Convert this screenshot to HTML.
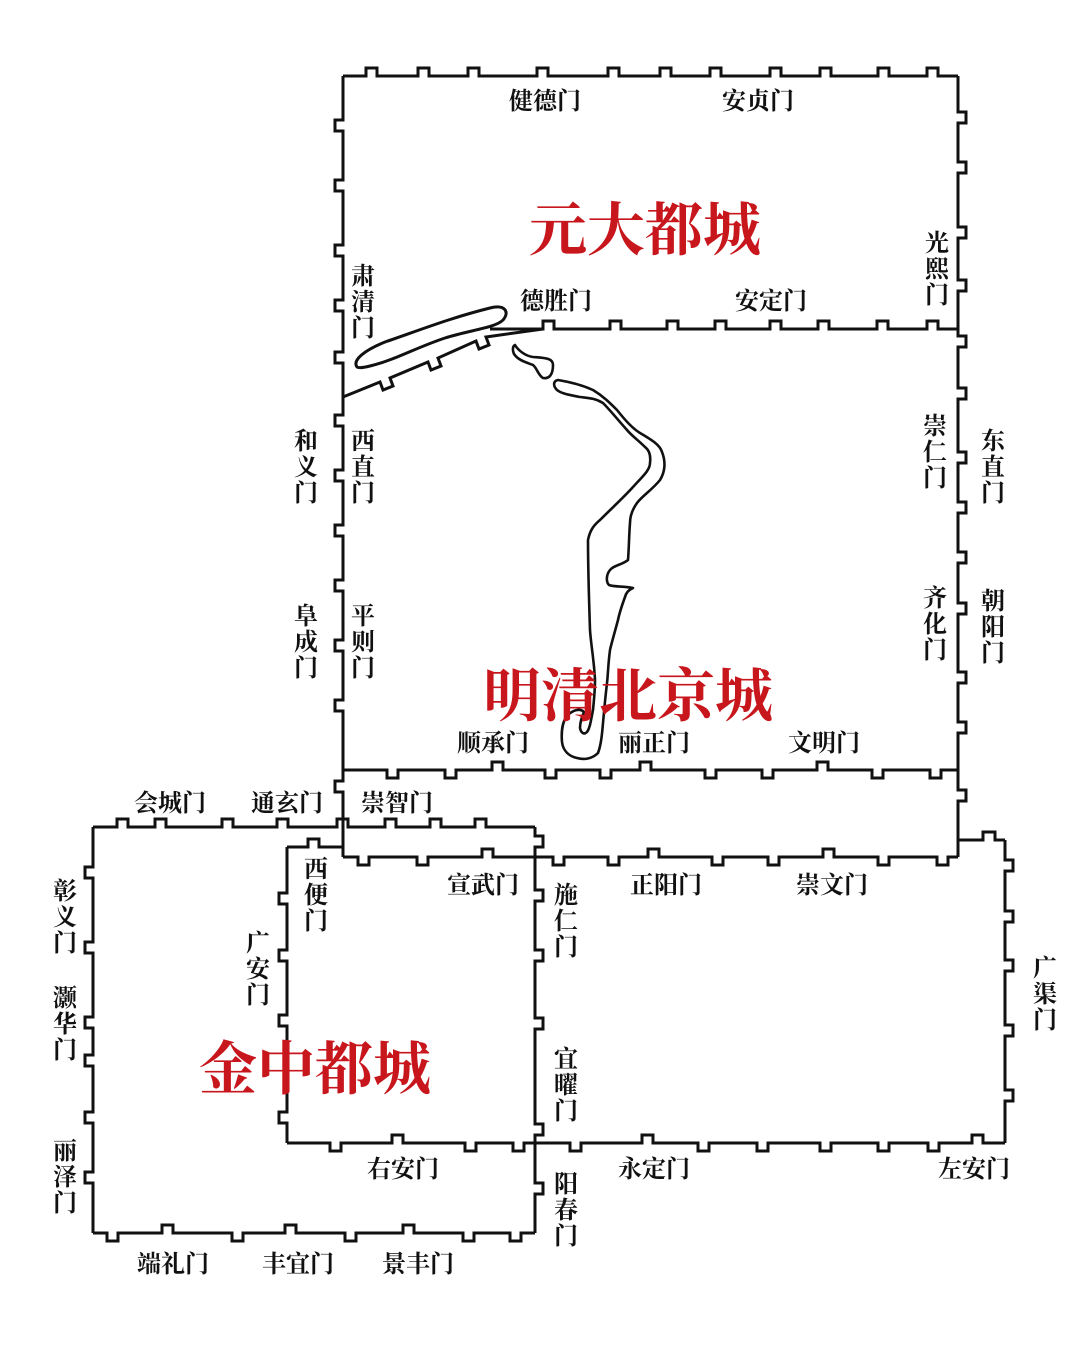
<!DOCTYPE html>
<html><head><meta charset="utf-8"><style>
html,body{margin:0;padding:0;background:#fff;}
svg{display:block}
text{font-family:"Liberation Serif","Noto Serif CJK SC",serif;}
</style></head><body>
<svg id="s" width="1080" height="1351" viewBox="0 0 1080 1351" xmlns="http://www.w3.org/2000/svg">
<rect width="1080" height="1351" fill="#fff"/>
<g id="walls" fill="none" stroke="#111" stroke-width="3" stroke-linejoin="miter"></g>
<!-- lake -->
<path d="M357,367 C352,360 365,350 385,342 C420,330 450,318 490,308 C505,304 510,312 503,320 C495,328 470,330 445,338 C415,348 395,360 370,366 C362,368 358,368 357,367 Z" fill="none" stroke="#111" stroke-width="3"/>
<!-- river -->
<g fill="none" stroke="#111" stroke-width="2.6" stroke-linejoin="round">
<path d="M515,345 C518,350 525,356 533,357 C545,358 553,358 553,365 C553,375 549,379 543,378 C538,375 537,368 533,365 C525,362 518,360 514,354 C512,349 513,346 515,345 Z"/>
<path d="M558,380 C570,382 582,385 593,390 C603,396 610,403 617,410 C625,420 632,428 640,433 C652,440 660,445 662,452 C666,462 665,472 660,480 C652,490 642,496 637,503 C632,510 630,517 630,523 C629,535 629,548 628,560 C622,565 614,565 610,570 C606,575 606,582 609,585 C614,587 624,586 633,588 C628,590 626,593 625,597 C621,608 619,615 618,620 C614,635 611,645 610,650 C608,665 608,675 607,683 C605,700 604,712 603,723 C602,735 601,745 598,753 C592,759 584,760 577,758 C568,756 563,750 562,742 C561,730 563,720 568,715 C573,710 580,708 584,712 C582,717 580,722 580,728 C581,733 584,735 587,732 C590,728 591,720 593,710 C594,700 595,690 595,680 C594,660 591,645 590,630 C589,600 588,570 588,540 C590,530 594,525 600,520 C612,508 625,496 633,487 C643,476 650,470 650,463 C651,455 649,450 645,447 C638,440 632,436 627,430 C618,420 610,410 603,403 C595,398 588,398 580,397 C570,395 562,394 557,390 C553,386 553,381 558,380 Z"/>
</g>
<g fill="#c8161d" font-weight="bold" text-anchor="middle" font-size="58">
<text x="645" y="250">元大都城</text>
<text x="628" y="716">明清北京城</text>
<text x="315" y="1089">金中都城</text>
</g>
<g id="labels" fill="#111" font-size="24" font-weight="bold" text-anchor="middle"></g>
</svg>
<script>
const N=11,D=8;
function H(x1,x2,y,ns){
  let d=`M${x1},${y}`;ns.sort((a,b)=>a[0]-b[0]);
  for(const [x,s] of ns){d+=` L${x},${y} L${x},${y+s*D} L${x+N},${y+s*D} L${x+N},${y}`;}
  return d+` L${x2},${y}`;}
function V(y1,y2,x,ns){
  let d=`M${x},${y1}`;ns.sort((a,b)=>a[0]-b[0]);
  for(const [y,s] of ns){d+=` L${x},${y} L${x+s*D},${y} L${x+s*D},${y+N} L${x},${y+N}`;}
  return d+` L${x},${y2}`;}
const u=a=>a.map(v=>[v,-1]), dn=a=>a.map(v=>[v,1]);
const P=[];
P.push(H(343,958,76,u([366,418,468,537,608,660,710,770,820,878,927])));
P.push(V(76,397,343,[[120,-1],[180,-1],[245,-1],[300,-1],[352,-1]]));
P.push(V(76,857,958,dn([112,162,227,280,336,388,452,502,552,603,672,722,790])));
P.push(H(490,958,329,u([543,610,667,715,770,818,877,927])));
P.push("M343,397 L380,382 L383,390 L393,386 L390,378 L428,362 L431,370 L441,366 L438,358 L476,341 L479,349 L489,345 L486,337 L543,329");
P.push(V(397,857,343,[[415,-1],[470,-1],[525,-1],[580,-1],[640,-1],[700,-1],[781,-1]]));
P.push(H(343,958,770,[...dn([387,445,545,600,705,762,872,930]),...u([492,640,817])]));
P.push(H(343,958,857,[...dn([358,417,553,608,712,768,878,937]),...u([482,648,823])]));
P.push("M958,857 L958,840 L983,840 L983,832 L995,832 L995,840 L1005,840");
P.push(V(840,1143,1005,dn([860,911,960,1025,1090])));
P.push(H(535,1005,1143,[...dn([570,698,757,820,878,928]),...u([642,972])]));
P.push(H(93,535,827,u([117,155,222,277,337,385,430,475])));
P.push(V(827,1233,535,dn([836,890,950,1018,1124,1183])));
P.push(V(827,1233,93,[[867,-1],[942,-1],[1017,-1],[1055,-1],[1112,-1],[1172,-1]]));
P.push(H(93,535,1233,[...dn([107,232,345,463,510]),...u([162,285,403])]));
P.push(H(287,343,847,u([308])));
P.push(V(847,1143,287,[[893,-1],[950,-1],[1015,-1],[1112,-1]]));
P.push(H(287,535,1143,[...dn([330,465,513]),...u([392])]));
const g=document.getElementById('walls');
for(const d of P){const p=document.createElementNS('http://www.w3.org/2000/svg','path');p.setAttribute('d',d);g.appendChild(p);}
const L=document.getElementById('labels');
function t(x,y,s){const e=document.createElementNS('http://www.w3.org/2000/svg','text');e.setAttribute('x',x);e.setAttribute('y',y);e.textContent=s;L.appendChild(e);}
function hz(s,x,y){t(x,y+9,s);}
function vt(s,x,y){[...s].forEach((c,i)=>t(x,y+9+i*26,c));}
hz('健德门',545,100);hz('安贞门',758,100);hz('德胜门',556,300);hz('安定门',771,300);
vt('光熙门',937,242);vt('肃清门',363,275);vt('和义门',306,440);vt('西直门',363,440);
vt('阜成门',306,615);vt('平则门',363,615);vt('崇仁门',935,425);vt('东直门',993,440);
vt('齐化门',935,597);vt('朝阳门',993,600);
hz('顺承门',493,742);hz('丽正门',654,742);hz('文明门',824,742);
hz('会城门',170,802);hz('通玄门',287,802);hz('崇智门',397,802);
vt('彰义门',65,890);vt('灏华门',65,997);vt('丽泽门',65,1150);
vt('西便门',316,868);vt('广安门',258,942);hz('宣武门',483,884);
vt('施仁门',566,894);hz('正阳门',666,884);hz('崇文门',832,884);
vt('广渠门',1045,967);vt('宜曜门',566,1058);
hz('右安门',403,1168);hz('永定门',654,1168);hz('左安门',974,1168);
vt('阳春门',566,1183);
hz('端礼门',173,1263);hz('丰宜门',298,1263);hz('景丰门',418,1263);
</script>
</body></html>
